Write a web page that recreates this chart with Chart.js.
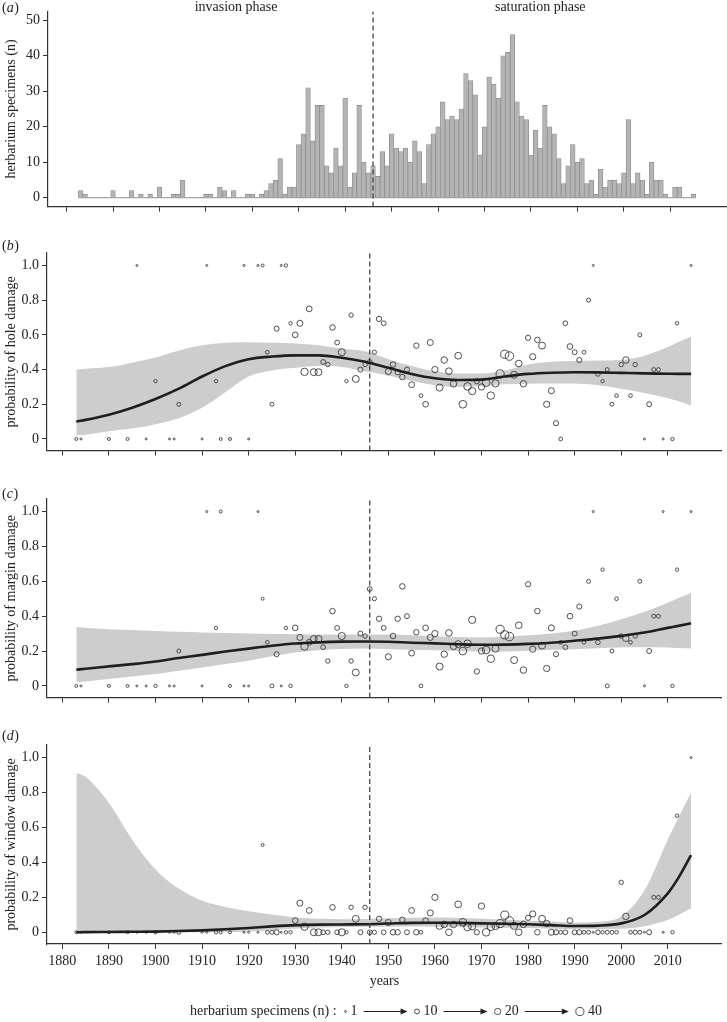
<!DOCTYPE html>
<html>
<head>
<meta charset="utf-8">
<script src="https://cdn.jsdelivr.net/npm/chart.js@4.4.0/dist/chart.umd.min.js"></script>
<style>
  body { margin: 0; background: #fff; }
  canvas { position: absolute; left: 0; }
</style>
</head>
<body>
<canvas id="grafico_a" width="727" height="218" style="top:0"></canvas>
<canvas id="grafico_b" width="727" height="242" style="top:220px"></canvas>
<canvas id="grafico_c" width="727" height="239" style="top:470px"></canvas>
<canvas id="grafico_d" width="727" height="307" style="top:715px"></canvas>
<script>
// herbarium specimens per year, 1883 - 2015
const firstYear = 1883
const specimens = [
  2, 1, 0, 0, 0, 0, 0,               // 1883-1889
  2, 0, 0, 0, 2, 0, 1, 0, 1, 0,      // 1890s
  3, 0, 0, 1, 1, 5, 0, 0, 0, 0,      // 1900s
  1, 1, 0, 3, 2, 0, 2, 0, 0, 1,      // 1910s
  1, 0, 1, 2, 4, 5, 11, 1, 3, 3,     // 1920s
  15, 18, 31, 16, 26, 26, 9, 7, 14, 9,
  28, 3, 7, 26, 10, 7, 9, 6, 13, 9,
  18, 14, 13, 14, 10, 16, 13, 4, 15, 18,
  20, 27, 22, 23, 22, 25, 35, 33, 29, 12,
  20, 34, 32, 28, 40, 41, 46, 27, 23, 22,
  12, 19, 14, 26, 20, 18, 11, 4, 9, 15,
  10, 11, 4, 5, 1, 8, 3, 5, 5, 4,
  7, 22, 4, 7, 5, 1, 10, 5, 5, 1,
  0, 3, 3, 0, 0, 1                   // 2010-2015
]

// proportion damaged, one value per year with specimens
const holeP = [
  0, 0, 0, 0, 1, 0, 0.333, 0, 0, 0.2, 0, 1, 0.333, 0, 0, 1, 0, 1, 1, 0.5, 0.2,   // 1883-1925
  0.636, 1, 1, 0.667, 0.6, 0.667, 0.387, 0.75, 0.385, 0.385, 0.444, 0.429,
  0.643, 0.556, 0.5, 0.333, 0.714, 0.346, 0.4, 0.429, 0.444, 0.5, 0.692, 0.667,  // 1926-1949
  0.389, 0.429, 0.385, 0.357, 0.4, 0.313, 0.538, 0.25, 0.2, 0.556,
  0.4, 0.296, 0.455, 0.391, 0.318, 0.48, 0.2, 0.303, 0.276, 0.333,
  0.3, 0.324, 0.25, 0.321, 0.375, 0.488, 0.478, 0.37, 0.435, 0.318,
  0.583, 0.474, 0.571, 0.538, 0.2, 0.278, 0.091, 0, 0.667, 0.533,
  0.5, 0.455, 0.5, 0.8, 1, 0.375, 0.333, 0.4, 0.2, 0.25,
  0.429, 0.455, 0.25, 0.429, 0.6, 0, 0.2, 0.4, 0.4, 0,
  0, 0.667, 1
]
const marginP = [
  0, 0, 0, 0, 0, 0, 0, 0, 0, 0.2, 0, 1, 0.333, 1, 0, 0, 0, 1, 0.5, 0.25, 0,
  0.182, 0, 0.333, 0, 0.333, 0.278, 0.226, 0.25, 0.269, 0.269, 0.222, 0.143,
  0.429, 0.333, 0.286, 0, 0.143, 0.077, 0.3, 0.286, 0.556, 0.5, 0.385, 0.333,
  0.167, 0.286, 0.385, 0.571, 0.4, 0.188, 0.308, 0, 0.333, 0.278,
  0.3, 0.111, 0.182, 0.304, 0.227, 0.24, 0.2, 0.242, 0.379, 0.083,
  0.2, 0.206, 0.156, 0.214, 0.325, 0.293, 0.283, 0.148, 0.348, 0.091,
  0.583, 0.211, 0.429, 0.231, 0.1, 0.333, 0.182, 0.25, 0.222, 0.4,
  0.3, 0.455, 0.25, 0.6, 1, 0.25, 0.667, 0, 0.2, 0.5,
  0.286, 0.273, 0.25, 0.286, 0.6, 0, 0.2, 0.4, 0.4, 1,
  0, 0.667, 1
]
const windowP = [
  0, 0, 0, 0, 0, 0, 0, 0, 0, 0, 0, 0, 0, 0, 0, 0, 0, 0, 0.5, 0, 0,
  0, 0, 0, 0, 0.067, 0.167, 0.032, 0.125, 0, 0, 0, 0,
  0.143, 0, 0, 0, 0.143, 0.077, 0, 0.143, 0, 0, 0.077, 0,
  0.056, 0, 0, 0.071, 0, 0.125, 0, 0, 0.067, 0.111,
  0.2, 0.037, 0.045, 0, 0.045, 0.16, 0.057, 0.03, 0.034, 0,
  0.15, 0, 0.031, 0.036, 0.05, 0.098, 0.065, 0.037, 0, 0.045,
  0.083, 0.105, 0, 0.077, 0.05, 0, 0, 0, 0, 0.067,
  0, 0, 0, 0, 0, 0, 0, 0, 0, 0,
  0.286, 0.091, 0, 0, 0, 0, 0, 0.2, 0.2, 0,
  0, 0.667, 1
]

// fitted curves and confidence bands
const smoothYears = [1883, 1885, 1890, 1895, 1900, 1905, 1910, 1915, 1920, 1925, 1930, 1935, 1940, 1945,
  1950, 1955, 1960, 1965, 1970, 1975, 1980, 1985, 1990, 1995, 2000, 2005, 2010, 2012, 2015]
const holeFit = [0.10, 0.11, 0.14, 0.18, 0.23, 0.29, 0.36, 0.42, 0.46, 0.475, 0.482, 0.482, 0.468, 0.445,
  0.41, 0.375, 0.35, 0.34, 0.342, 0.36, 0.375, 0.382, 0.385, 0.384, 0.381, 0.378, 0.376, 0.375, 0.375]
const holeHigh = [0.40, 0.405, 0.415, 0.44, 0.47, 0.51, 0.54, 0.555, 0.558, 0.555, 0.55, 0.54, 0.52, 0.505,
  0.46, 0.42, 0.39, 0.378, 0.378, 0.395, 0.43, 0.445, 0.45, 0.452, 0.455, 0.48, 0.53, 0.555, 0.59]
const holeLow = [0.02, 0.025, 0.045, 0.06, 0.085, 0.12, 0.18, 0.27, 0.36, 0.395, 0.41, 0.42, 0.415, 0.39,
  0.365, 0.335, 0.31, 0.30, 0.305, 0.315, 0.318, 0.32, 0.32, 0.31, 0.29, 0.265, 0.235, 0.22, 0.195]
const marginFit = [0.093, 0.098, 0.112, 0.125, 0.14, 0.16, 0.178, 0.197, 0.214, 0.23, 0.243, 0.25, 0.254, 0.255,
  0.253, 0.248, 0.244, 0.239, 0.236, 0.237, 0.241, 0.248, 0.259, 0.271, 0.287, 0.306, 0.333, 0.343, 0.359]
const marginHigh = [0.338, 0.334, 0.325, 0.32, 0.315, 0.31, 0.306, 0.303, 0.30, 0.298, 0.297, 0.295, 0.294, 0.295,
  0.295, 0.29, 0.285, 0.28, 0.278, 0.282, 0.29, 0.30, 0.316, 0.345, 0.382, 0.425, 0.477, 0.50, 0.534]
const marginLow = [0.021, 0.026, 0.04, 0.054, 0.068, 0.087, 0.106, 0.125, 0.144, 0.17, 0.192, 0.205, 0.212, 0.215,
  0.212, 0.207, 0.204, 0.20, 0.198, 0.198, 0.202, 0.207, 0.211, 0.216, 0.22, 0.222, 0.22, 0.218, 0.215]
const windowFit = [0, 0.001, 0.002, 0.003, 0.004, 0.007, 0.011, 0.017, 0.025, 0.034, 0.041, 0.044, 0.045, 0.046,
  0.05, 0.054, 0.055, 0.054, 0.051, 0.049, 0.046, 0.041, 0.036, 0.038, 0.051, 0.099, 0.223, 0.30, 0.442]
const windowHigh = [0.912, 0.89, 0.74, 0.53, 0.36, 0.25, 0.18, 0.145, 0.12, 0.102, 0.085, 0.078, 0.075, 0.076,
  0.08, 0.083, 0.084, 0.082, 0.078, 0.072, 0.068, 0.062, 0.055, 0.06, 0.09, 0.24, 0.53, 0.64, 0.80]
const windowLow = [0, 0, 0, 0, 0, 0, 0, 0, 0.004, 0.012, 0.022, 0.028, 0.03, 0.032,
  0.032, 0.033, 0.032, 0.03, 0.028, 0.026, 0.024, 0.021, 0.019, 0.018, 0.02, 0.035, 0.07, 0.095, 0.137]

const xTicks = [1880, 1890, 1900, 1910, 1920, 1930, 1940, 1950, 1960, 1970, 1980, 1990, 2000, 2010]
const countTicks = [0, 10, 20, 30, 40, 50]
const probTicks = [0, 0.2, 0.4, 0.6, 0.8, 1]
const phaseSplit = 1946
const phaseLabels = ['invasion phase', 'saturation phase']
const phaseLabelYears = [1916.5, 1982]
const legendSizes = [1, 10, 20, 40]

const years = specimens.map((_, i) => firstYear + i)
const pointYears = years.filter((_, i) => specimens[i] > 0)
const pointN = specimens.filter(n => n > 0)

const fontSize = 14
const fontName = "'Liberation Serif'"
Chart.defaults.font.family = fontName + ", 'Times New Roman', serif"
Chart.defaults.font.size = fontSize
Chart.defaults.color = '#222'
Chart.defaults.animation = false
Chart.defaults.plugins.legend.display = false
Chart.defaults.plugins.tooltip.enabled = false

const axisColor = '#333'

function pointSize(n) {
  return 1 + 3.3 * Math.sqrt((n - 1) / 45)
}

function xAxis(min, max, showLabels) {
  return {
    type: 'linear', min, max, offset: false,
    afterBuildTicks: s => { s.ticks = xTicks.map(v => ({ value: v })) },
    grid: { drawOnChartArea: false, offset: false, tickLength: 5, color: axisColor },
    border: { color: axisColor, width: 1.2 },
    ticks: { display: showLabels, padding: 4, maxRotation: 0, autoSkip: false, callback: v => String(v) },
    title: { display: showLabels, text: 'years', padding: { top: 2, bottom: 4 } },
    afterFit: s => { s.height = showLabels ? 50 : 10 }
  }
}

function yAxis(min, max, ticks, title, fmt, width) {
  return {
    type: 'linear', min, max,
    afterBuildTicks: s => { s.ticks = ticks.map(v => ({ value: v })) },
    grid: { drawOnChartArea: false, tickLength: 5, color: axisColor },
    border: { color: axisColor, width: 1.2 },
    ticks: { padding: 3, autoSkip: false, callback: fmt },
    title: { display: true, text: title, padding: { top: 3, bottom: 0 } },
    afterFit: s => { s.width = width }
  }
}

function panelLabel(letter, y) {
  return {
    id: 'panelLabel',
    afterDraw(chart) {
      const ctx = chart.ctx
      ctx.save()
      ctx.fillStyle = '#222'
      ctx.textBaseline = 'middle'
      let x = 2
      ctx.font = fontSize + 'px ' + fontName
      ctx.fillText('(', x, y)
      x += ctx.measureText('(').width
      ctx.font = 'italic ' + fontSize + 'px ' + fontName
      ctx.fillText(letter, x, y)
      x += ctx.measureText(letter).width + 0.5
      ctx.font = fontSize + 'px ' + fontName
      ctx.fillText(')', x, y)
      ctx.restore()
    }
  }
}

const phaseText = {
  id: 'phaseText',
  afterDraw(chart) {
    const ctx = chart.ctx
    ctx.save()
    ctx.font = fontSize + 'px ' + fontName
    ctx.fillStyle = '#222'
    ctx.textAlign = 'center'
    ctx.textBaseline = 'middle'
    phaseLabels.forEach((t, i) => {
      ctx.fillText(t, chart.scales.x.getPixelForValue(phaseLabelYears[i]), 7.5)
    })
    ctx.restore()
  }
}

const sizeLegend = {
  id: 'sizeLegend',
  afterDraw(chart) {
    const ctx = chart.ctx
    const y = chart.height - 10.5
    ctx.save()
    ctx.font = fontSize + 'px ' + fontName
    ctx.fillStyle = '#222'
    ctx.textBaseline = 'middle'
    const head = 'herbarium specimens (n) :'
    let x = 190
    ctx.fillText(head, x, y)
    x += ctx.measureText(head).width + 8
    legendSizes.forEach((n, i) => {
      const r = pointSize(n)
      ctx.beginPath()
      ctx.arc(x + r, y, r, 0, 2 * Math.PI)
      ctx.strokeStyle = '#3c3c3c'
      ctx.lineWidth = 0.9
      ctx.stroke()
      x += 2 * r + 4
      ctx.fillText(String(n), x, y)
      x += ctx.measureText(String(n)).width + 6
      if (i < legendSizes.length - 1) {
        const len = 44
        ctx.beginPath()
        ctx.moveTo(x, y)
        ctx.lineTo(x + len - 5, y)
        ctx.strokeStyle = '#222'
        ctx.lineWidth = 1
        ctx.stroke()
        ctx.beginPath()
        ctx.moveTo(x + len, y)
        ctx.lineTo(x + len - 7, y - 3)
        ctx.lineTo(x + len - 7, y + 3)
        ctx.closePath()
        ctx.fill()
        x += len + 7
      }
    })
    ctx.restore()
  }
}

function dashedSplit(yMin, yMax) {
  return {
    type: 'line',
    data: [{ x: phaseSplit, y: yMin }, { x: phaseSplit, y: yMax }],
    borderColor: '#444', borderWidth: 1.3, borderDash: [5, 3],
    pointRadius: 0, fill: false, order: 1
  }
}

// (a) specimens per year
const countMin = -2.5, countMax = 52.5
new Chart(document.getElementById('grafico_a'), {
  type: 'bar',
  data: {
    datasets: [
      {
        data: years.map((y, i) => ({ x: y, y: specimens[i] })),
        backgroundColor: '#b4b4b4', borderColor: '#8f8f8f', borderWidth: 0.8,
        barPercentage: 1, categoryPercentage: 1, order: 3
      },
      {
        type: 'line',
        data: [{ x: years[0] - 0.5, y: 0 }, { x: years[years.length - 1] + 0.5, y: 0 }],
        borderColor: '#8f8f8f', borderWidth: 1, pointRadius: 0, fill: false, order: 2
      },
      dashedSplit(countMin, countMax)
    ]
  },
  options: {
    responsive: false,
    layout: { padding: { top: 7, right: 1, left: 0, bottom: 0 } },
    scales: {
      x: xAxis(1876, 2022, false),
      y: yAxis(countMin, countMax, countTicks, 'herbarium specimens (n)', v => String(v), 48)
    }
  },
  plugins: [panelLabel('a', 8), phaseText]
})

// (b)-(d) damage probabilities
const probMin = -0.067, probMax = 1.072

function probChart(id, letter, labelY, title, p, fit, low, high, padTop, padBottom, showX, extra) {
  const line = v => smoothYears.map((y, i) => ({ x: y, y: v[i] }))
  return new Chart(document.getElementById(id), {
    type: 'scatter',
    data: {
      datasets: [
        {
          type: 'line', data: line(high), fill: '+1', backgroundColor: '#cdcdcd',
          borderColor: 'rgba(0,0,0,0)', borderWidth: 0, pointRadius: 0,
          cubicInterpolationMode: 'monotone', order: 4
        },
        {
          type: 'line', data: line(low), fill: false,
          borderColor: 'rgba(0,0,0,0)', borderWidth: 0, pointRadius: 0,
          cubicInterpolationMode: 'monotone', order: 4
        },
        {
          data: pointYears.map((y, i) => ({ x: y, y: p[i] })),
          pointRadius: c => pointSize(pointN[c.dataIndex]),
          pointBorderColor: '#3c3c3c', pointBorderWidth: 0.9,
          pointBackgroundColor: 'rgba(0,0,0,0)', order: 3
        },
        {
          type: 'line', data: line(fit), borderColor: '#1e1e1e', borderWidth: 2.6,
          pointRadius: 0, cubicInterpolationMode: 'monotone', fill: false, order: 2
        },
        dashedSplit(probMin, probMax)
      ]
    },
    options: {
      responsive: false,
      layout: { padding: { top: padTop, right: 1, left: 0, bottom: padBottom } },
      scales: {
        x: xAxis(1876.7, 2021.6, showX),
        y: yAxis(probMin, probMax, probTicks, title, v => v === 0 ? '0' : v.toFixed(1), 47)
      }
    },
    plugins: [panelLabel(letter, labelY)].concat(extra)
  })
}

probChart('grafico_b', 'b', 26, 'probability of hole damage', holeP, holeFit, holeLow, holeHigh, 33, 0, false, [])
probChart('grafico_c', 'c', 24, 'probability of margin damage', marginP, marginFit, marginLow, marginHigh, 29, 0, false, [])
probChart('grafico_d', 'd', 21, 'probability of window damage', windowP, windowFit, windowLow, windowHigh, 30, 28, true, [sizeLegend])
</script>
</body>
</html>
